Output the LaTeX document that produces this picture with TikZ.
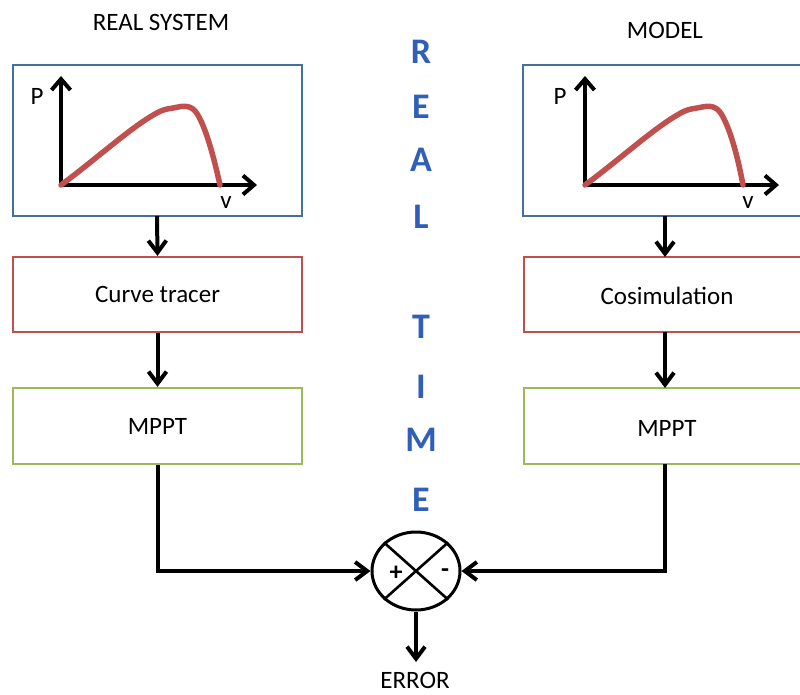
\documentclass[tikz,border=0pt]{standalone}
\usepackage{fontspec}
\setmainfont{Carlito}
\usetikzlibrary{arrows.meta,shapes.geometric}
\definecolor{bbox}{HTML}{41719C}
\definecolor{rbox}{HTML}{C0504D}
\definecolor{gbox}{HTML}{9BBB59}
\definecolor{rt}{HTML}{2F5FB8}
\begin{document}
\begin{tikzpicture}[x=1pt,y=-1pt,
  boxline/.style={line width=2.2pt},
  conn/.style={line width=4pt,-{Straight Barb[length=12pt,width=18pt,line width=4pt]}},
  axis/.style={line width=4pt,-{Straight Barb[length=11pt,width=19pt,line width=4pt]}},
  pv/.style={line width=5.5pt,color=rbox,line cap=round},
  lbl/.style={font=\fontsize{25}{28}\selectfont},
  rtl/.style={font=\fontsize{36}{38}\selectfont\bfseries,text=rt}]
\useasboundingbox (0,0) rectangle (800,695);
\begin{scope}
\clip (0,0) rectangle (800,695);
% left column
\draw[boxline,bbox] (13,65) rectangle (302,216);
\node[draw=rbox,boxline,minimum width=289pt,minimum height=75pt,lbl] (ct) at (157.5,294.5) {Curve tracer};
\node[draw=gbox,boxline,minimum width=289pt,minimum height=76pt,lbl] (m1) at (157.5,426) {MPPT};
% right column
\draw[boxline,bbox] (523,65) rectangle (812,216);
\node[draw=rbox,boxline,minimum width=289pt,minimum height=75pt,lbl,anchor=west] (cs) at (523,294.5) {};
\node[lbl] at (667,296) {Cosimulation};
\node[draw=gbox,boxline,minimum width=289pt,minimum height=76pt,lbl,anchor=west] (m2) at (523,426) {};
\node[lbl] at (667,428) {MPPT};
\end{scope}
\coordinate (lb) at (157,216);
\coordinate (rb) at (665,216);
\coordinate (m2b) at (665,464);
\coordinate (m2t) at (665,388);
\coordinate (cst) at (665,257);
\coordinate (csb) at (665,332);
% titles
\node[lbl] (t1) at (161,22) {REAL SYSTEM};
\node[lbl] (t2) at (665,30) {MODEL};
% PV curves
\coordinate (o1) at (61,185);
\draw[axis] (o1) -- (61,76);
\draw[axis] (o1) -- (257,185);
\draw[pv] (o1) .. controls (95,160) and (130,128) .. (155,114) .. controls (165,108) and (170,109) .. (178,107) .. controls (188,105) and (194,107) .. (199,117) .. controls (207,132) and (214,158) .. (220,185);
\node[lbl] (p1) at (37,96) {P};
\node[lbl] (v1) at (226,203) {v};
\coordinate (o2) at (585,185);
\draw[axis] (o2) -- (585,76);
\draw[axis] (o2) -- (779,185);
\draw[pv] (o2) .. controls (619,160) and (654,128) .. (679,114) .. controls (689,108) and (694,109) .. (702,107) .. controls (712,105) and (718,107) .. (723,117) .. controls (731,132) and (738,158) .. (743,185);
\node[lbl] (p2) at (560,96) {P};
\node[lbl] (v2) at (748,203) {v};
% arrows
\draw[conn] (lb) -- (ct.north);
\draw[conn] (ct.south) -- (m1.north);
\draw[conn] (rb) -- (cst);
\draw[conn] (csb) -- (m2t);
% summing junction
\node[draw,ellipse,line width=3pt,minimum width=88pt,minimum height=78pt,inner sep=0pt] (sj) at (416,571) {};
\draw[line width=2.6pt] (sj.north west) -- (sj.south east);
\draw[line width=2.6pt] (sj.north east) -- (sj.south west);
\node[font=\fontsize{26}{28}\selectfont\bfseries] (plus) at (396,573) {+};
\node[font=\fontsize{26}{28}\selectfont\bfseries] (minus) at (445,573) {-};
\draw[conn] (m1.south) |- (sj.west);
\draw[conn] (m2b) |- (sj.east);
\coordinate (errend) at (416,662);
\draw[conn] (sj.south) -- (errend);
\node[lbl,inner sep=0pt] (err) at (415,680) {ERROR};
% REAL TIME
\node[rtl] (r1) at (421,52) {R};
\node[rtl] (r2) at (421,107) {E};
\node[rtl] (r3) at (421,160) {A};
\node[rtl] (r4) at (421,217) {L};
\node[rtl] (r5) at (421,327) {T};
\node[rtl] (r6) at (421,387) {I};
\node[rtl] (r7) at (421,440) {M};
\node[rtl] (r8) at (421,500) {E};
\end{tikzpicture}
\end{document}
